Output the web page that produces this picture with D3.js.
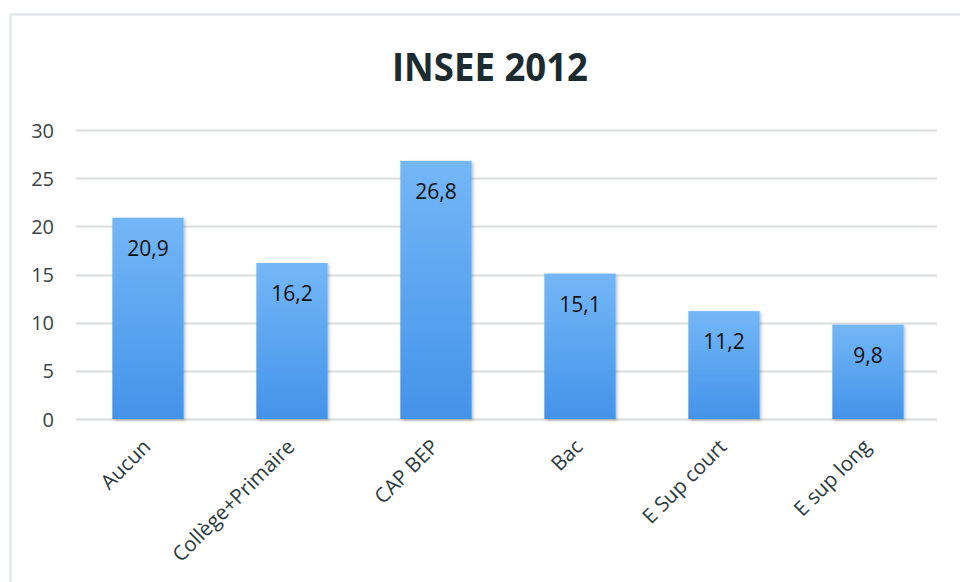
<!DOCTYPE html>
<html><head><meta charset="utf-8">
<script src="https://cdn.jsdelivr.net/npm/d3@7"></script>
<style>body{margin:0;background:#fff}svg{display:block}</style>
</head><body>
<svg id="chart" width="960" height="582"></svg>
<script>
const categories = ["Aucun","Collège+Primaire","CAP BEP","Bac","E Sup court","E sup long"];
const values = [20.9,16.2,26.8,15.1,11.2,9.8];
const valueLabels = ["20,9","16,2","26,8","15,1","11,2","9,8"];
const yTicks = [0,5,10,15,20,25,30];
const title = "INSEE 2012";

const svg = d3.select("#chart");
const font = "'Open Sans', 'Noto Sans', sans-serif";

// chart frame
svg.append("rect").attr("x",0).attr("y",0).attr("width",960).attr("height",582).attr("fill","#fff");
svg.append("path").attr("d","M10.5,600 V14.5 H960").attr("fill","none").attr("stroke","#dde3e3").attr("stroke-width",2);

const defs = svg.append("defs");
const grad = defs.append("linearGradient").attr("id","barGrad").attr("x1",0).attr("y1",0).attr("x2",0).attr("y2",1);
grad.append("stop").attr("offset","0%").attr("stop-color","#74b7f7");
grad.append("stop").attr("offset","100%").attr("stop-color","#4393ea");
const filt = defs.append("filter").attr("id","shadow").attr("x","-10%").attr("y","-10%").attr("width","130%").attr("height","130%");
filt.append("feDropShadow").attr("dx",1.5).attr("dy",1.5).attr("stdDeviation",1.5).attr("flood-color","#000").attr("flood-opacity",0.25);

const x = d3.scaleBand().domain(categories).range([76,940]).paddingInner(0.505).paddingOuter(0.2525);
const y = d3.scaleLinear().domain([0,30]).range([419,130]);

// gridlines
svg.append("g").selectAll("line").data(yTicks).join("line")
  .attr("x1",76).attr("x2",937)
  .attr("y1",d=>Math.round(y(d))+0.5).attr("y2",d=>Math.round(y(d))+0.5)
  .attr("stroke","#d9dcdc").attr("stroke-width",2);

// y axis labels
const yAxis = d3.axisLeft(y).tickValues(yTicks).tickSize(0).tickPadding(0).tickFormat(d3.format("d"));
const ya = svg.append("g").attr("transform","translate(54,0)").call(yAxis);
ya.select(".domain").remove();
ya.selectAll("text").attr("font-family",font).attr("font-size",20).attr("fill","#3c4446").attr("dy","0.35em");

// bars
svg.append("g").selectAll("rect").data(values).join("rect")
  .attr("x",(d,i)=>x(categories[i]))
  .attr("y",d=>y(d))
  .attr("width",x.bandwidth())
  .attr("height",d=>y(0)-y(d))
  .attr("fill","url(#barGrad)")
  .attr("filter","url(#shadow)");

// value labels
svg.append("g").selectAll("text").data(values).join("text")
  .attr("x",(d,i)=>x(categories[i])+x.bandwidth()/2)
  .attr("y",d=>y(d)+38)
  .attr("text-anchor","middle")
  .attr("font-family",font).attr("font-size",21).attr("fill","#111")
  .text((d,i)=>valueLabels[i]);

// x axis labels
const xAxis = d3.axisBottom(x).tickSize(0).tickPadding(0);
const xa = svg.append("g").attr("transform","translate(0,419)").call(xAxis);
xa.select(".domain").remove();
xa.selectAll("text")
  .attr("font-family",font).attr("font-size",20.5).attr("fill","#2a3a3c")
  .attr("text-anchor","end").attr("dy",null).attr("y",0)
  .attr("transform","translate(4,29) rotate(-45)");

// title
svg.append("text").attr("x",490).attr("y",81).attr("text-anchor","middle")
  .attr("font-family",font).attr("font-weight","bold").attr("font-size",40)
  .attr("fill","#1c2b30")
  .attr("textLength",196).attr("lengthAdjust","spacingAndGlyphs")
  .text(title);
</script>
</body></html>
